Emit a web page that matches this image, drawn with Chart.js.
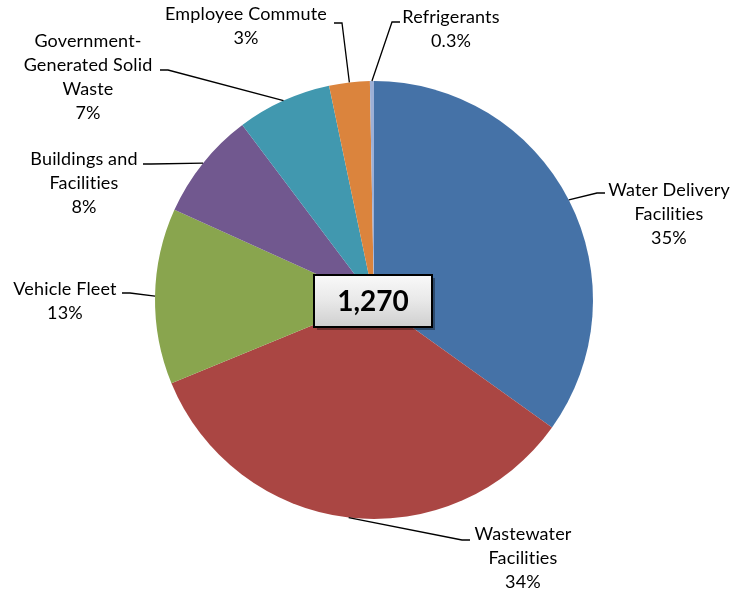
<!DOCTYPE html>
<html>
<head>
<meta charset="utf-8">
<script src="https://cdn.jsdelivr.net/npm/chart.js@4.4.0/dist/chart.umd.min.js"></script>
<style>
  html, body { margin: 0; padding: 0; background: #fff; }
  #wrap { width: 736px; height: 596px; position: relative; }
</style>
</head>
<body>
<div id="wrap"><canvas id="emissions" width="736" height="596"></canvas></div>
<script>
const categories = [
  "Water Delivery Facilities",
  "Wastewater Facilities",
  "Vehicle Fleet",
  "Buildings and Facilities",
  "Government-Generated Solid Waste",
  "Employee Commute",
  "Refrigerants"
];
const shares = [35, 34, 13, 8, 7, 3, 0.3];
const totalEmissions = 1270;

const sliceColors = ["#4572A7", "#AA4643", "#89A54E", "#71588F", "#4198AF", "#DB843D", "#9DB0D6"];

// how each category name wraps in its callout
const labelLines = [
  ["Water Delivery", "Facilities"],
  ["Wastewater", "Facilities"],
  ["Vehicle Fleet"],
  ["Buildings and", "Facilities"],
  ["Government-", "Generated Solid", "Waste"],
  ["Employee Commute"],
  ["Refrigerants"]
];

// callout placement: text centre / first line, and where the leader meets the text
const calloutLayout = [
  { cx: 669, top: 190, ax: 605, ay: 193, dir: -1 },
  { cx: 523, top: 534, ax: 470, ay: 540, dir: -1 },
  { cx: 65,  top: 289, ax: 122, ay: 293, dir: 1 },
  { cx: 84,  top: 159, ax: 143, ay: 164, dir: 1 },
  { cx: 88,  top: 41,  ax: 160, ay: 70,  dir: 1 },
  { cx: 246, top: 14,  ax: 334, ay: 23,  dir: 1 },
  { cx: 451, top: 17,  ax: 400, ay: 22,  dir: -1 }
];

const LABEL_FONT = "18px Lato, 'Liberation Sans', sans-serif";
const LINE_H = 24;

function pctText(v) {
  return (v < 1 ? v.toFixed(1) : Math.round(v)) + "%";
}

const calloutPlugin = {
  id: "callouts",
  afterDatasetsDraw(chart) {
    const ctx = chart.ctx;
    const arcs = chart.getDatasetMeta(0).data;
    ctx.save();
    ctx.font = LABEL_FONT;
    ctx.letterSpacing = "0.15px"; // keeps Lato from joining "ti"
    ctx.fillStyle = "#000";
    ctx.strokeStyle = "#000";
    ctx.lineWidth = 1.3;
    ctx.textAlign = "center";
    ctx.textBaseline = "middle";

    arcs.forEach((arc, i) => {
      const p = arc.getProps(["x", "y", "startAngle", "endAngle", "outerRadius"], true);
      const mid = (p.startAngle + p.endAngle) / 2;
      const px = p.x + Math.cos(mid) * p.outerRadius;
      const py = p.y + Math.sin(mid) * p.outerRadius;
      const lay = calloutLayout[i];

      ctx.beginPath();
      ctx.moveTo(px, py);
      ctx.lineTo(lay.ax + lay.dir * 8, lay.ay);
      ctx.lineTo(lay.ax, lay.ay);
      ctx.stroke();

      const lines = labelLines[i].concat([pctText(shares[i])]);
      lines.forEach((t, k) => {
        ctx.fillText(t, lay.cx, lay.top + k * LINE_H);
      });
    });

    // total in a bevelled box over the centre
    const c = arcs[0].getProps(["x", "y"], true);
    const bw = 118, bh = 52;
    const bx = c.x - bw / 2 - 1, by = c.y - bh / 2 + 1;
    ctx.fillStyle = "rgba(0,0,0,0.35)";
    ctx.fillRect(bx + 3, by + 3, bw, bh);
    const g = ctx.createLinearGradient(0, by, 0, by + bh);
    g.addColorStop(0, "#f9f9f9");
    g.addColorStop(0.5, "#e8e8e8");
    g.addColorStop(1, "#cfcfcf");
    ctx.fillStyle = g;
    ctx.fillRect(bx, by, bw, bh);
    ctx.lineWidth = 2;
    ctx.strokeRect(bx, by, bw, bh);
    ctx.fillStyle = "#000";
    ctx.letterSpacing = "0px";
    ctx.font = "bold 28px Lato, 'Liberation Sans', sans-serif";
    ctx.fillText(totalEmissions.toLocaleString("en-US"), bx + bw / 2, by + bh / 2 + 1);
    ctx.restore();
  }
};

new Chart(document.getElementById("emissions"), {
  type: "pie",
  data: {
    labels: categories,
    datasets: [{
      data: shares,
      backgroundColor: sliceColors,
      borderWidth: 0
    }]
  },
  options: {
    responsive: false,
    animation: false,
    layout: { padding: { left: 155, right: 143, top: 81, bottom: 77 } },
    plugins: {
      legend: { display: false },
      tooltip: { enabled: false }
    }
  },
  plugins: [calloutPlugin]
});
</script>
</body>
</html>
